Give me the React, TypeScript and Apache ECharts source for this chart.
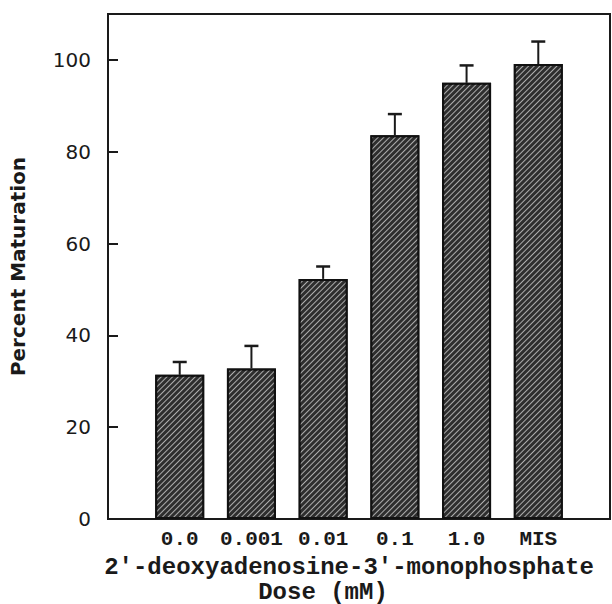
import React, { useEffect, useRef } from "react";
import * as echarts from "echarts";

const categories = ["0.0", "0.001", "0.01", "0.1", "1.0", "MIS"];
const values = [31.4, 32.8, 52.3, 83.6, 95.0, 99.1];
const errors = [2.8, 4.9, 2.7, 4.6, 3.8, 4.9];
const yTicks = [0, 20, 40, 60, 80, 100];
const xTitle = "2'-deoxyadenosine-3'-monophosphate";
const xTitle2 = "Dose (mM)";
const yTitle = "Percent Maturation";

export default function App() {
  const ref = useRef<HTMLDivElement>(null);
  useEffect(() => {
    const chart = echarts.init(ref.current!, null, { renderer: "svg" });
    const barData = values.map((v, i) => [i + 1, v]);
    const errData = values.map((v, i) => [i + 1, v, v + errors[i]]);
    chart.setOption({
      animation: false,
      backgroundColor: "#ffffff",
      grid: {
        left: 108,
        right: 2,
        top: 14,
        bottom: 85,
        show: true,
        borderColor: "#1a1a1a",
        borderWidth: 2,
        backgroundColor: "transparent",
      },
      xAxis: {
        type: "value",
        min: 0,
        max: 7,
        interval: 1,
        splitLine: { show: false },
        axisLine: { show: true, lineStyle: { color: "#1a1a1a", width: 2 } },
        axisTick: { show: false },
        axisLabel: {
          customValues: [1, 2, 3, 4, 5, 6],
          formatter: (v: number) => categories[Math.round(v) - 1] ?? "",
          fontFamily: "Liberation Mono",
          fontWeight: "bold",
          fontSize: 21,
          color: "#1a1a1a",
          margin: 10,
        },
      },
      yAxis: {
        type: "value",
        min: 0,
        max: 110,
        interval: 20,
        name: yTitle,
        nameLocation: "middle",
        nameGap: 80,
        nameTextStyle: {
          fontFamily: "DejaVu Sans",
          fontWeight: "bold",
          fontSize: 20,
          color: "#1a1a1a",
        },
        splitLine: { show: false },
        axisLine: { show: true, lineStyle: { color: "#1a1a1a", width: 2 } },
        axisTick: {
          show: true,
          inside: true,
          length: 10,
          customValues: [20, 40, 60, 80, 100],
          lineStyle: { color: "#1a1a1a", width: 2 },
        },
        axisLabel: {
          customValues: yTicks,
          fontFamily: "DejaVu Sans",
          fontSize: 20,
          color: "#1a1a1a",
          margin: 17,
        },
      },
      series: [
        {
          type: "bar",
          data: barData,
          barWidth: 49,
          itemStyle: {
            color: "#2e2e2e",
            borderColor: "#111111",
            borderWidth: 2,
            decal: {
              symbol: "rect",
              symbolSize: 1,
              dashArrayX: [1, 0],
              dashArrayY: [1, 3],
              rotation: -Math.PI / 4,
              color: "rgba(225,225,225,0.7)",
            },
          },
        },
        {
          type: "custom",
          data: errData,
          renderItem: (params: any, api: any) => {
            const x = api.value(0);
            const base = api.coord([x, api.value(1)]);
            const top = api.coord([x, api.value(2)]);
            const half = 7;
            return {
              type: "group",
              children: [
                {
                  type: "line",
                  shape: { x1: base[0], y1: base[1], x2: top[0], y2: top[1] },
                  style: { stroke: "#1a1a1a", lineWidth: 2 },
                },
                {
                  type: "line",
                  shape: { x1: top[0] - half, y1: top[1], x2: top[0] + half, y2: top[1] },
                  style: { stroke: "#1a1a1a", lineWidth: 2.5 },
                },
              ],
            };
          },
          z: 3,
        },
      ],
      graphic: [
        {
          type: "text",
          x: 349,
          y: 567,
          style: {
            text: xTitle,
            fontFamily: "Liberation Mono",
            fontWeight: "bold",
            fontSize: 24,
            fill: "#1a1a1a",
            align: "center",
            verticalAlign: "middle",
          },
        },
        {
          type: "text",
          x: 323,
          y: 592,
          style: {
            text: xTitle2,
            fontFamily: "Liberation Mono",
            fontWeight: "bold",
            fontSize: 24,
            fill: "#1a1a1a",
            align: "center",
            verticalAlign: "middle",
          },
        },
      ],
    });
    return () => chart.dispose();
  }, []);
  return <div ref={ref} style={{ width: 612, height: 604, position: "absolute", left: 0, top: 0 }} />;
}
